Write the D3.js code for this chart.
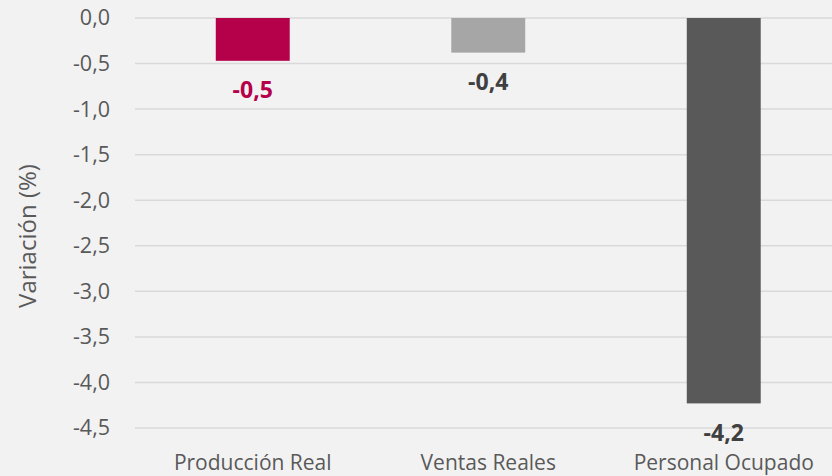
<!DOCTYPE html>
<html><head><meta charset="utf-8">
<script src="https://cdn.jsdelivr.net/npm/d3@7"></script>
<style>
html,body{margin:0;padding:0;background:#F2F2F2;}
svg{display:block;font-family:"Open Sans",sans-serif;}
</style></head>
<body>
<svg id="chart" width="832" height="476"></svg>
<script>
const categories = ["Producción Real", "Ventas Reales", "Personal Ocupado"];
const values = [-0.47, -0.38, -4.23];
const labels = ["-0,5", "-0,4", "-4,2"];
const barColors = ["#B5004A", "#A6A6A6", "#595959"];
const labelColors = ["#B5004A", "#404040", "#404040"];
const yTicks = [0, -0.5, -1, -1.5, -2, -2.5, -3, -3.5, -4, -4.5];

const svg = d3.select("#chart");
svg.append("rect").attr("width", 832).attr("height", 476).attr("fill", "#F2F2F2");

const x = d3.scaleBand().domain(categories).range([135, 841.5]).paddingInner(0.686).paddingOuter(0.343);
const y = d3.scaleLinear().domain([-4.5, 0]).range([428, 18]);
const fmt = v => d3.format(".1f")(v).replace(".", ",").replace("−", "-");

// gridlines
svg.append("g").selectAll("line").data(yTicks).join("line")
  .attr("x1", 135).attr("x2", 832)
  .attr("y1", d => y(d)).attr("y2", d => y(d))
  .attr("stroke", "#D9D9D9").attr("stroke-width", 1.5);

// y axis
const yAxis = svg.append("g").attr("transform", "translate(110,0)")
  .call(d3.axisLeft(y).tickValues(yTicks).tickFormat(fmt).tickSize(0).tickPadding(0));
yAxis.select(".domain").remove();
yAxis.selectAll("text").attr("font-size", 21.5).attr("fill", "#595959").attr("font-family", "'Open Sans',sans-serif");

// x axis
const xAxis = svg.append("g")
  .call(d3.axisBottom(x).tickSize(0).tickPadding(0));
xAxis.select(".domain").remove();
xAxis.selectAll("text").attr("font-size", 21).attr("fill", "#595959").attr("font-family", "'Open Sans',sans-serif")
  .attr("y", 469.5).attr("dy", 0);

// bars
svg.append("g").selectAll("rect").data(values).join("rect")
  .attr("x", (d, i) => x(categories[i]))
  .attr("width", x.bandwidth())
  .attr("y", y(0))
  .attr("height", d => y(d) - y(0))
  .attr("fill", (d, i) => barColors[i]);

// value labels
svg.append("g").selectAll("text").data(values).join("text")
  .attr("x", (d, i) => x(categories[i]) + x.bandwidth() / 2)
  .attr("y", d => y(d) + 37.5)
  .attr("text-anchor", "middle")
  .attr("font-size", 23).attr("font-weight", "bold")
  .attr("fill", (d, i) => labelColors[i])
  .text((d, i) => labels[i]);

// y title
svg.append("text")
  .attr("transform", "translate(36,236) rotate(-90)")
  .attr("text-anchor", "middle")
  .attr("font-size", 24).attr("fill", "#595959")
  .text("Variación (%)");
</script>
</body></html>
